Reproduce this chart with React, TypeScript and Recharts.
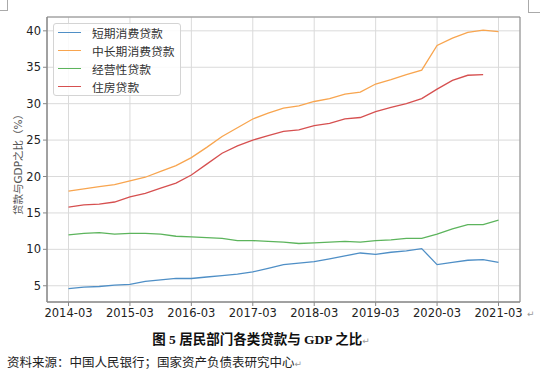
import React from "react";
import {
  LineChart,
  Line,
  XAxis,
  YAxis,
  CartesianGrid,
  ReferenceArea,
} from "recharts";

// quarterly labels, 2014-03 .. 2021-03
const quarters = [
  "2014-03", "2014-06", "2014-09", "2014-12",
  "2015-03", "2015-06", "2015-09", "2015-12",
  "2016-03", "2016-06", "2016-09", "2016-12",
  "2017-03", "2017-06", "2017-09", "2017-12",
  "2018-03", "2018-06", "2018-09", "2018-12",
  "2019-03", "2019-06", "2019-09", "2019-12",
  "2020-03", "2020-06", "2020-09", "2020-12",
  "2021-03",
];

const shortTerm = [
  4.6, 4.8, 4.9, 5.1, 5.2, 5.6, 5.8, 6.0, 6.0, 6.2, 6.4, 6.6, 6.9, 7.4, 7.9,
  8.1, 8.3, 8.7, 9.1, 9.5, 9.3, 9.6, 9.8, 10.1, 7.9, 8.2, 8.5, 8.6, 8.2,
];
const midLongTerm = [
  18.0, 18.3, 18.6, 18.9, 19.4, 19.9, 20.7, 21.5, 22.6, 24.0, 25.5, 26.7,
  27.9, 28.7, 29.4, 29.7, 30.3, 30.7, 31.3, 31.6, 32.7, 33.3, 34.0, 34.6,
  38.0, 39.0, 39.8, 40.1, 39.9,
];
const business = [
  12.0, 12.2, 12.3, 12.1, 12.2, 12.2, 12.1, 11.8, 11.7, 11.6, 11.5, 11.2,
  11.2, 11.1, 11.0, 10.8, 10.9, 11.0, 11.1, 11.0, 11.2, 11.3, 11.5, 11.5,
  12.1, 12.8, 13.4, 13.4, 14.0,
];
const housing = [
  15.8, 16.1, 16.2, 16.5, 17.2, 17.7, 18.4, 19.1, 20.2, 21.7, 23.2, 24.2,
  25.0, 25.6, 26.2, 26.4, 27.0, 27.3, 27.9, 28.1, 28.9, 29.5, 30.0, 30.7,
  32.0, 33.2, 33.9, 34.0, null,
];

const xTicks = [0, 4, 8, 12, 16, 20, 24, 28];
const yTicks = [5, 10, 15, 20, 25, 30, 35, 40];

const series = [
  { key: "short", name: "短期消费贷款", color: "#4f8fc6" },
  { key: "midlong", name: "中长期消费贷款", color: "#f8a54f" },
  { key: "business", name: "经营性贷款", color: "#5cb45c" },
  { key: "housing", name: "住房贷款", color: "#d65050" },
];

const data = quarters.map((q, i) => ({
  idx: i,
  short: shortTerm[i],
  midlong: midLongTerm[i],
  business: business[i],
  housing: housing[i],
}));

const X_DOMAIN: [number, number] = [-1.4, 29.4];
const Y_DOMAIN: [number, number] = [2.77, 41.9];
const tickFont = { fontFamily: "DejaVu Sans", fontSize: 11.5, fill: "#222" };

export default function App() {
  return (
    <div
      style={{
        position: "absolute",
        left: 0,
        top: 0,
        width: 540,
        height: 383,
        background: "#fff",
        overflow: "hidden",
      }}
    >
      {/* page corner marks */}
      <div style={{ position: "absolute", left: 0, top: 0, width: 7, height: 10, borderRight: "1px solid #aaa", borderBottom: "1px solid #aaa" }} />
      <div style={{ position: "absolute", left: 528, top: 0, width: 12, height: 12, borderLeft: "1px solid #aaa", borderBottom: "1px solid #aaa" }} />

      <LineChart
        width={540}
        height={320}
        data={data}
        margin={{ top: 17, right: 20, left: 0, bottom: 0 }}
      >
        <CartesianGrid stroke="#dadada" />
        <XAxis
          type="number"
          dataKey="idx"
          domain={X_DOMAIN}
          ticks={xTicks}
          interval={0}
          allowDataOverflow
          tickFormatter={(v: number) => quarters[v]}
          tick={tickFont}
          tickSize={4}
          tickMargin={3}
          height={18}
          stroke="#888"
        />
        <YAxis
          type="number"
          domain={Y_DOMAIN}
          ticks={yTicks}
          interval={0}
          allowDataOverflow
          tick={tickFont}
          tickSize={4}
          tickMargin={2}
          width={47}
          stroke="#888"
        />
        <ReferenceArea
          x1={X_DOMAIN[0]}
          x2={X_DOMAIN[1]}
          y1={Y_DOMAIN[0]}
          y2={Y_DOMAIN[1]}
          fill="none"
          stroke="#888"
          ifOverflow="visible"
        />
        {series.map((s) => (
          <Line
            key={s.key}
            dataKey={s.key}
            name={s.name}
            stroke={s.color}
            strokeWidth={1.3}
            dot={false}
            isAnimationActive={false}
          />
        ))}
      </LineChart>

      {/* y axis label */}
      <div
        style={{
          position: "absolute",
          left: 17,
          top: 162,
          transform: "translate(-50%, -50%) rotate(-90deg)",
          whiteSpace: "nowrap",
          fontFamily: "'DejaVu Sans', 'Noto Sans CJK SC'",
          fontSize: 10.5,
          color: "#555",
        }}
      >
        贷款与GDP之比（%）
      </div>

      {/* legend */}
      <div
        style={{
          position: "absolute",
          left: 53,
          top: 23,
          width: 128,
          height: 73,
          border: "1px solid #d4d4d4",
          borderRadius: 3,
          background: "rgba(255,255,255,0.85)",
          boxSizing: "border-box",
        }}
      />
      {series.map((s, i) => (
        <React.Fragment key={s.key}>
          <div
            style={{
              position: "absolute",
              left: 58,
              top: 32 + i * 18,
              width: 23,
              height: 0,
              borderTop: `1.5px solid ${s.color}`,
            }}
          />
          <div
            style={{
              position: "absolute",
              left: 92,
              top: 33 + i * 18,
              transform: "translateY(-50%)",
              whiteSpace: "nowrap",
              fontFamily: "'Noto Sans CJK SC'",
              fontSize: 11.8,
              lineHeight: 1,
              color: "#333",
            }}
          >
            {s.name}
          </div>
        </React.Fragment>
      ))}

      <div style={{ position: "absolute", left: 527, top: 309, fontSize: 9, color: "#999", fontFamily: "DejaVu Sans" }}>↵</div>

      {/* caption */}
      <div
        style={{
          position: "absolute",
          left: 0,
          width: 522,
          top: 331,
          textAlign: "center",
          whiteSpace: "pre",
          fontFamily: "'Liberation Serif', 'Noto Sans CJK SC'",
          fontWeight: 700,
          fontSize: 13.5,
          lineHeight: "18px",
          color: "#111",
        }}
      >
        {"图 5 居民部门各类贷款与 GDP 之比"}
        <span style={{ fontWeight: 400, fontSize: 9, color: "#999", fontFamily: "DejaVu Sans" }}>↵</span>
      </div>

      {/* source */}
      <div
        style={{
          position: "absolute",
          left: 7,
          top: 353,
          whiteSpace: "nowrap",
          fontFamily: "'Noto Sans CJK SC'",
          fontSize: 12.5,
          lineHeight: "18px",
          color: "#222",
        }}
      >
        资料来源：中国人民银行；国家资产负债表研究中心
        <span style={{ fontSize: 9, color: "#999", fontFamily: "DejaVu Sans" }}>↵</span>
      </div>
    </div>
  );
}
